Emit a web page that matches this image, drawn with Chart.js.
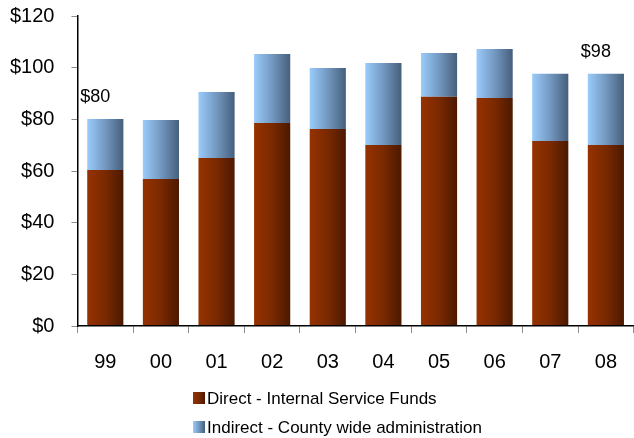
<!DOCTYPE html>
<html>
<head>
<meta charset="utf-8">
<script src="https://cdn.jsdelivr.net/npm/chart.js@4/dist/chart.umd.min.js"></script>
<style>
  html, body { margin: 0; padding: 0; background: #fff; }
  #wrap { width: 634px; height: 438px; }
</style>
</head>
<body>
<div id="wrap"><canvas id="costChart" width="634" height="438"></canvas></div>
<script>
// Fiscal years on the x axis
const years = ['99', '00', '01', '02', '03', '04', '05', '06', '07', '08'];

// $ millions
const directFunds = [60.4, 56.9, 65.0, 78.6, 76.3, 70.1, 88.7, 88.3, 71.6, 70.1];
const indirectAdmin = [19.7, 22.8, 25.6, 26.7, 23.6, 31.7, 17.0, 18.9, 26.0, 27.5];

// Y axis ticks
const yTicks = [0, 20, 40, 60, 80, 100, 120];

// Only these years show a total label
const labelledYears = ['99', '08'];

const seriesNames = ['Direct - Internal Service Funds', 'Indirect - County wide administration'];

const FONT = "'Liberation Sans', Arial, sans-serif";
const BAR_PCT = 0.65;

// horizontal shading like the original (light left, dark right)
const shades = {
    direct: ['#963200', '#7a2900', '#4b1900'],
    indirect: ['#9acbfb', '#7398c0', '#465f7c']
};

function makeGradient(ctx2d, x0, x1, stops) {
    const g = ctx2d.createLinearGradient(x0, 0, x1, 0);
    g.addColorStop(0, stops[0]);
    g.addColorStop(0.5, stops[1]);
    g.addColorStop(1, stops[2]);
    return g;
}

function barFill(stops) {
    return function(context) {
        const chart = context.chart;
        const xScale = chart.scales.x;
        if (!chart.chartArea || !xScale || context.dataIndex === undefined) {
            return stops[0];
        }
        const cx = xScale.getPixelForValue(context.dataIndex);
        const half = (xScale.width / years.length) * BAR_PCT / 2;
        return makeGradient(chart.ctx, cx - half, cx + half, stops);
    };
}

// total labels above the first and last bar
const totalLabels = {
    id: 'totalLabels',
    afterDatasetsDraw(chart) {
        const ctx = chart.ctx;
        const topMeta = chart.getDatasetMeta(1);
        ctx.save();
        ctx.font = '18px ' + FONT;
        ctx.fillStyle = '#000';
        ctx.textAlign = 'center';
        ctx.textBaseline = 'middle';
        labelledYears.forEach(yr => {
            const i = years.indexOf(yr);
            const bar = topMeta.data[i];
            const total = Math.round(directFunds[i] + indirectAdmin[i]);
            ctx.fillText('$' + total, bar.x - 10, bar.y - 22);
        });
        ctx.restore();
    }
};

// stacked legend, both rows starting at the same x
const listLegend = {
    id: 'listLegend',
    afterDraw(chart) {
        const ctx = chart.ctx;
        const left = 193;
        const rows = [398, 427];
        const keys = ['direct', 'indirect'];
        ctx.save();
        ctx.font = '17px ' + FONT;
        ctx.textBaseline = 'middle';
        seriesNames.forEach((name, k) => {
            const y = rows[k];
            ctx.fillStyle = makeGradient(ctx, left, left + 12, shades[keys[k]]);
            ctx.fillRect(left, y - 6, 12, 12);
            ctx.fillStyle = '#000';
            ctx.fillText(name, left + 14, y + 1);
        });
        ctx.restore();
    }
};

const data = {
    labels: years,
    datasets: [
        {
            label: seriesNames[0],
            data: directFunds,
            backgroundColor: barFill(shades.direct),
            borderWidth: 0
        },
        {
            label: seriesNames[1],
            data: indirectAdmin,
            backgroundColor: barFill(shades.indirect),
            borderWidth: 0
        }
    ]
};

const config = {
    type: 'bar',
    data: data,
    options: {
        responsive: false,
        animation: false,
        layout: {
            // the plot runs slightly past the right edge in the original
            padding: { top: 0, left: -7, right: -4, bottom: 47 }
        },
        datasets: {
            bar: {
                categoryPercentage: BAR_PCT,
                barPercentage: 1
            }
        },
        plugins: {
            legend: { display: false },
            tooltip: { enabled: false }
        },
        scales: {
            x: {
                stacked: true,
                border: { display: true, color: '#000', width: 1.5, z: 1 },
                grid: {
                    display: true,
                    drawOnChartArea: false,
                    drawTicks: true,
                    tickLength: 7,
                    tickColor: '#8c8c8c',
                    offset: true
                },
                ticks: {
                    color: '#000',
                    padding: 17,
                    font: { family: FONT, size: 20 }
                }
            },
            y: {
                stacked: true,
                min: yTicks[0],
                max: yTicks[yTicks.length - 1],
                border: { display: true, color: '#000', width: 1.5, z: 1 },
                grid: {
                    display: true,
                    drawOnChartArea: false,
                    drawTicks: true,
                    tickLength: 6,
                    tickColor: '#8c8c8c'
                },
                afterBuildTicks(scale) {
                    scale.ticks = yTicks.map(v => ({ value: v }));
                },
                // tick padding would otherwise push the plot top down
                afterFit(scale) {
                    scale.paddingTop = 16;
                },
                ticks: {
                    color: '#000',
                    padding: 17,
                    font: { family: FONT, size: 20 },
                    callback: v => '$' + v
                }
            }
        }
    },
    plugins: [totalLabels, listLegend]
};

new Chart(document.getElementById('costChart'), config);
</script>
</body>
</html>
